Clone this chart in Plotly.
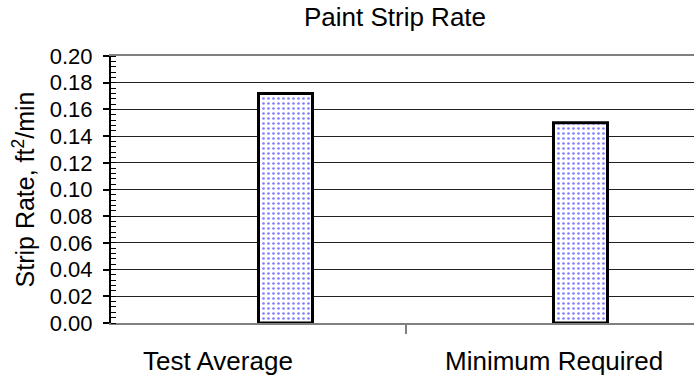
import plotly.graph_objects as go

# Chart data
categories = ["Test Average", "Minimum Required"]
strip_rate = [0.172, 0.150]
y_ticks = [0.00, 0.02, 0.04, 0.06, 0.08, 0.10, 0.12, 0.14, 0.16, 0.18, 0.20]

FONT = "Liberation Sans, Arial, sans-serif"
label_shift = [-41, 0]  # horizontal nudge of each category label (px)

x_pos = list(range(len(categories)))

fig = go.Figure()
fig.add_trace(go.Bar(
    x=x_pos,
    y=strip_rate,
    width=0.183,
    offset=0,
    marker=dict(
        color="white",
        line=dict(color="black", width=3),
        pattern=dict(shape=".", fgcolor="#0000ff", bgcolor="white",
                     size=5, solidity=0.22),
    ),
    hoverinfo="skip",
))

# category labels under each group
for i, (cat, dx) in enumerate(zip(categories, label_shift)):
    fig.add_annotation(
        x=i, xref="x", y=-0.142, yref="paper",
        text=cat, showarrow=False, xanchor="center", yanchor="middle",
        xshift=dx, font=dict(family=FONT, size=26, color="black"),
    )

fig.update_layout(
    width=694, height=379,
    margin=dict(l=111, r=0, t=56, b=56),
    paper_bgcolor="white", plot_bgcolor="white",
    showlegend=False,
    title=dict(text="Paint Strip Rate", x=395 / 694, xanchor="center",
               y=1 - 17 / 379, yanchor="middle",
               font=dict(family=FONT, size=26, color="black")),
    xaxis=dict(
        range=[-0.5, -0.5 + 583 / 295],
        tickvals=[0.5], ticktext=[""],
        ticks="outside", ticklen=9, tickwidth=2, tickcolor="#808080",
        showgrid=False, zeroline=False,
        showline=True, linecolor="#808080", linewidth=2, mirror=True,
    ),
    yaxis=dict(
        range=[0, 0.2],
        tickvals=y_ticks, tickformat=".2f",
        ticks="outside", ticklen=6, tickwidth=1.5, tickcolor="black",
        ticklabelstandoff=6,
        minor=dict(dtick=0.004, ticks="inside", ticklen=5, tickwidth=1,
                   tickcolor="black", showgrid=False),
        showgrid=True, gridcolor="#222222", gridwidth=1,
        zeroline=False,
        showline=True, linecolor="black", linewidth=2,
        tickfont=dict(family=FONT, size=22, color="black"),
        title=dict(text="Strip Rate, ft<sup>2</sup>/min", standoff=8,
                   font=dict(family=FONT, size=25, color="black")),
    ),
)

fig.write_html("out.html")
